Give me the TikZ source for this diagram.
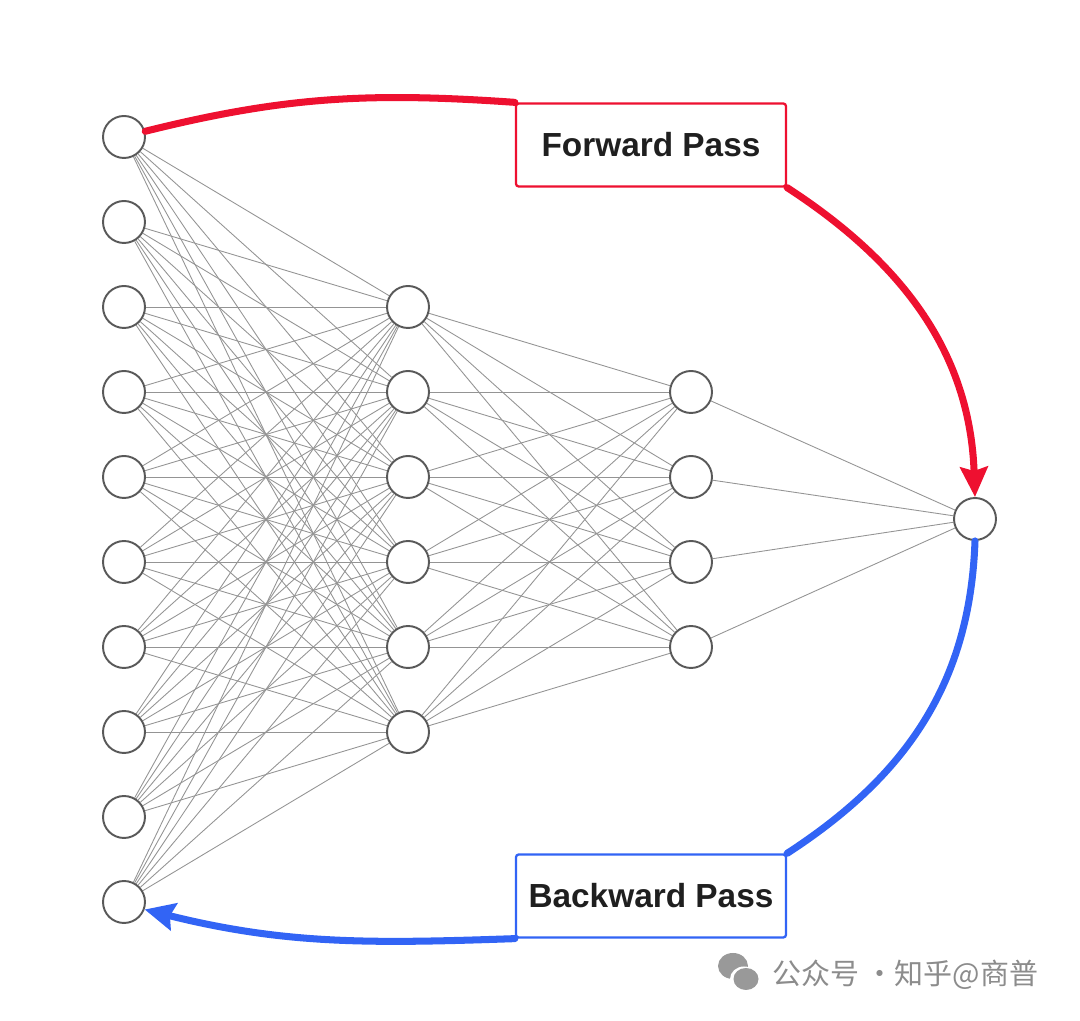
\documentclass[tikz,border=0pt]{standalone}
\usepackage{fontspec}
\setmainfont{Liberation Sans}
\newfontfamily\cjkfont{Noto Sans CJK SC}
\usetikzlibrary{arrows.meta, backgrounds, positioning}
\definecolor{fwdred}{RGB}{238,16,48}
\definecolor{bwdblue}{RGB}{50,100,245}
\tikzset{
  neuron/.style={circle, draw=black!65, line width=1.1pt, fill=white, minimum size=0.84cm, inner sep=0pt},
  edge/.style={draw=black!42, line width=0.5pt},
  passbox/.style={draw=#1, line width=1.3pt, rounded corners=1.5pt, fill=white, minimum width=5.4cm, minimum height=1.66cm, font=\bfseries\fontsize{19}{22}\selectfont, text=black!88},
  passline/.style={draw=#1, line width=4pt, line cap=round},
}

\begin{document}
\begin{tikzpicture}[x=0.02cm, y=0.02cm]
        \useasboundingbox (0,0) rectangle (1080,1021);

        % Input layer (10 neurons)
        \foreach \i in {1,...,10}
            \node[neuron] (a\i) at (124, {884-85*(\i-1)}) {};

        % Hidden layer 1 (6 neurons)
        \foreach \j in {1,...,6}
            \node[neuron] (b\j) at (408, {714-85*(\j-1)}) {};

        % Hidden layer 2 (4 neurons)
        \foreach \k in {1,...,4}
            \node[neuron] (c\k) at (691, {629-85*(\k-1)}) {};

        % Output neuron
        \node[neuron] (out) at (975, 502) {};

        % Weights between the layers
        \begin{scope}[on background layer]
            \foreach \i in {1,...,10}
                \foreach \j in {1,...,6}
                    \draw[edge] (a\i) -- (b\j);
            \foreach \j in {1,...,6}
                \foreach \k in {1,...,4}
                    \draw[edge] (b\j) -- (c\k);
            \foreach \k in {1,...,4}
                \draw[edge] (c\k) -- (out);
        \end{scope}

        % Pass labels
        \node[passbox=fwdred] (fwd) at (651, 876) {Forward Pass};
        \node[passbox=bwdblue] (bwd) at (651, 125) {Backward Pass};

        % Forward pass arrow
        \draw[passline=fwdred] (a1.15) to[out=14, in=176] (fwd.north west);
        \draw[passline=fwdred, -{Stealth[length=0.6cm, width=0.55cm, inset=0.08cm]}] (fwd.south east) to[out=-33, in=92] (out.north);

        % Backward pass arrow
        \draw[passline=bwdblue] (out.south) to[out=-92, in=33] (bwd.north east);
        \draw[passline=bwdblue, -{Stealth[length=0.6cm, width=0.55cm, inset=0.08cm]}] (bwd.south west) to[out=182, in=-14] (a10.-20);

        % Watermark
        \fill[black!40] (733, 55) ellipse [x radius=15, y radius=13];
        \fill[white] (744, 42) ellipse [x radius=14, y radius=12.5];
        \fill[black!40] (746, 42) ellipse [x radius=12.5, y radius=11];
        \node[text=black!45, anchor=west, font=\cjkfont\fontsize{16.5}{18}\selectfont] (mark) at (766, 46) {公众号 ·知乎@商普};
\end{tikzpicture}
\end{document}
